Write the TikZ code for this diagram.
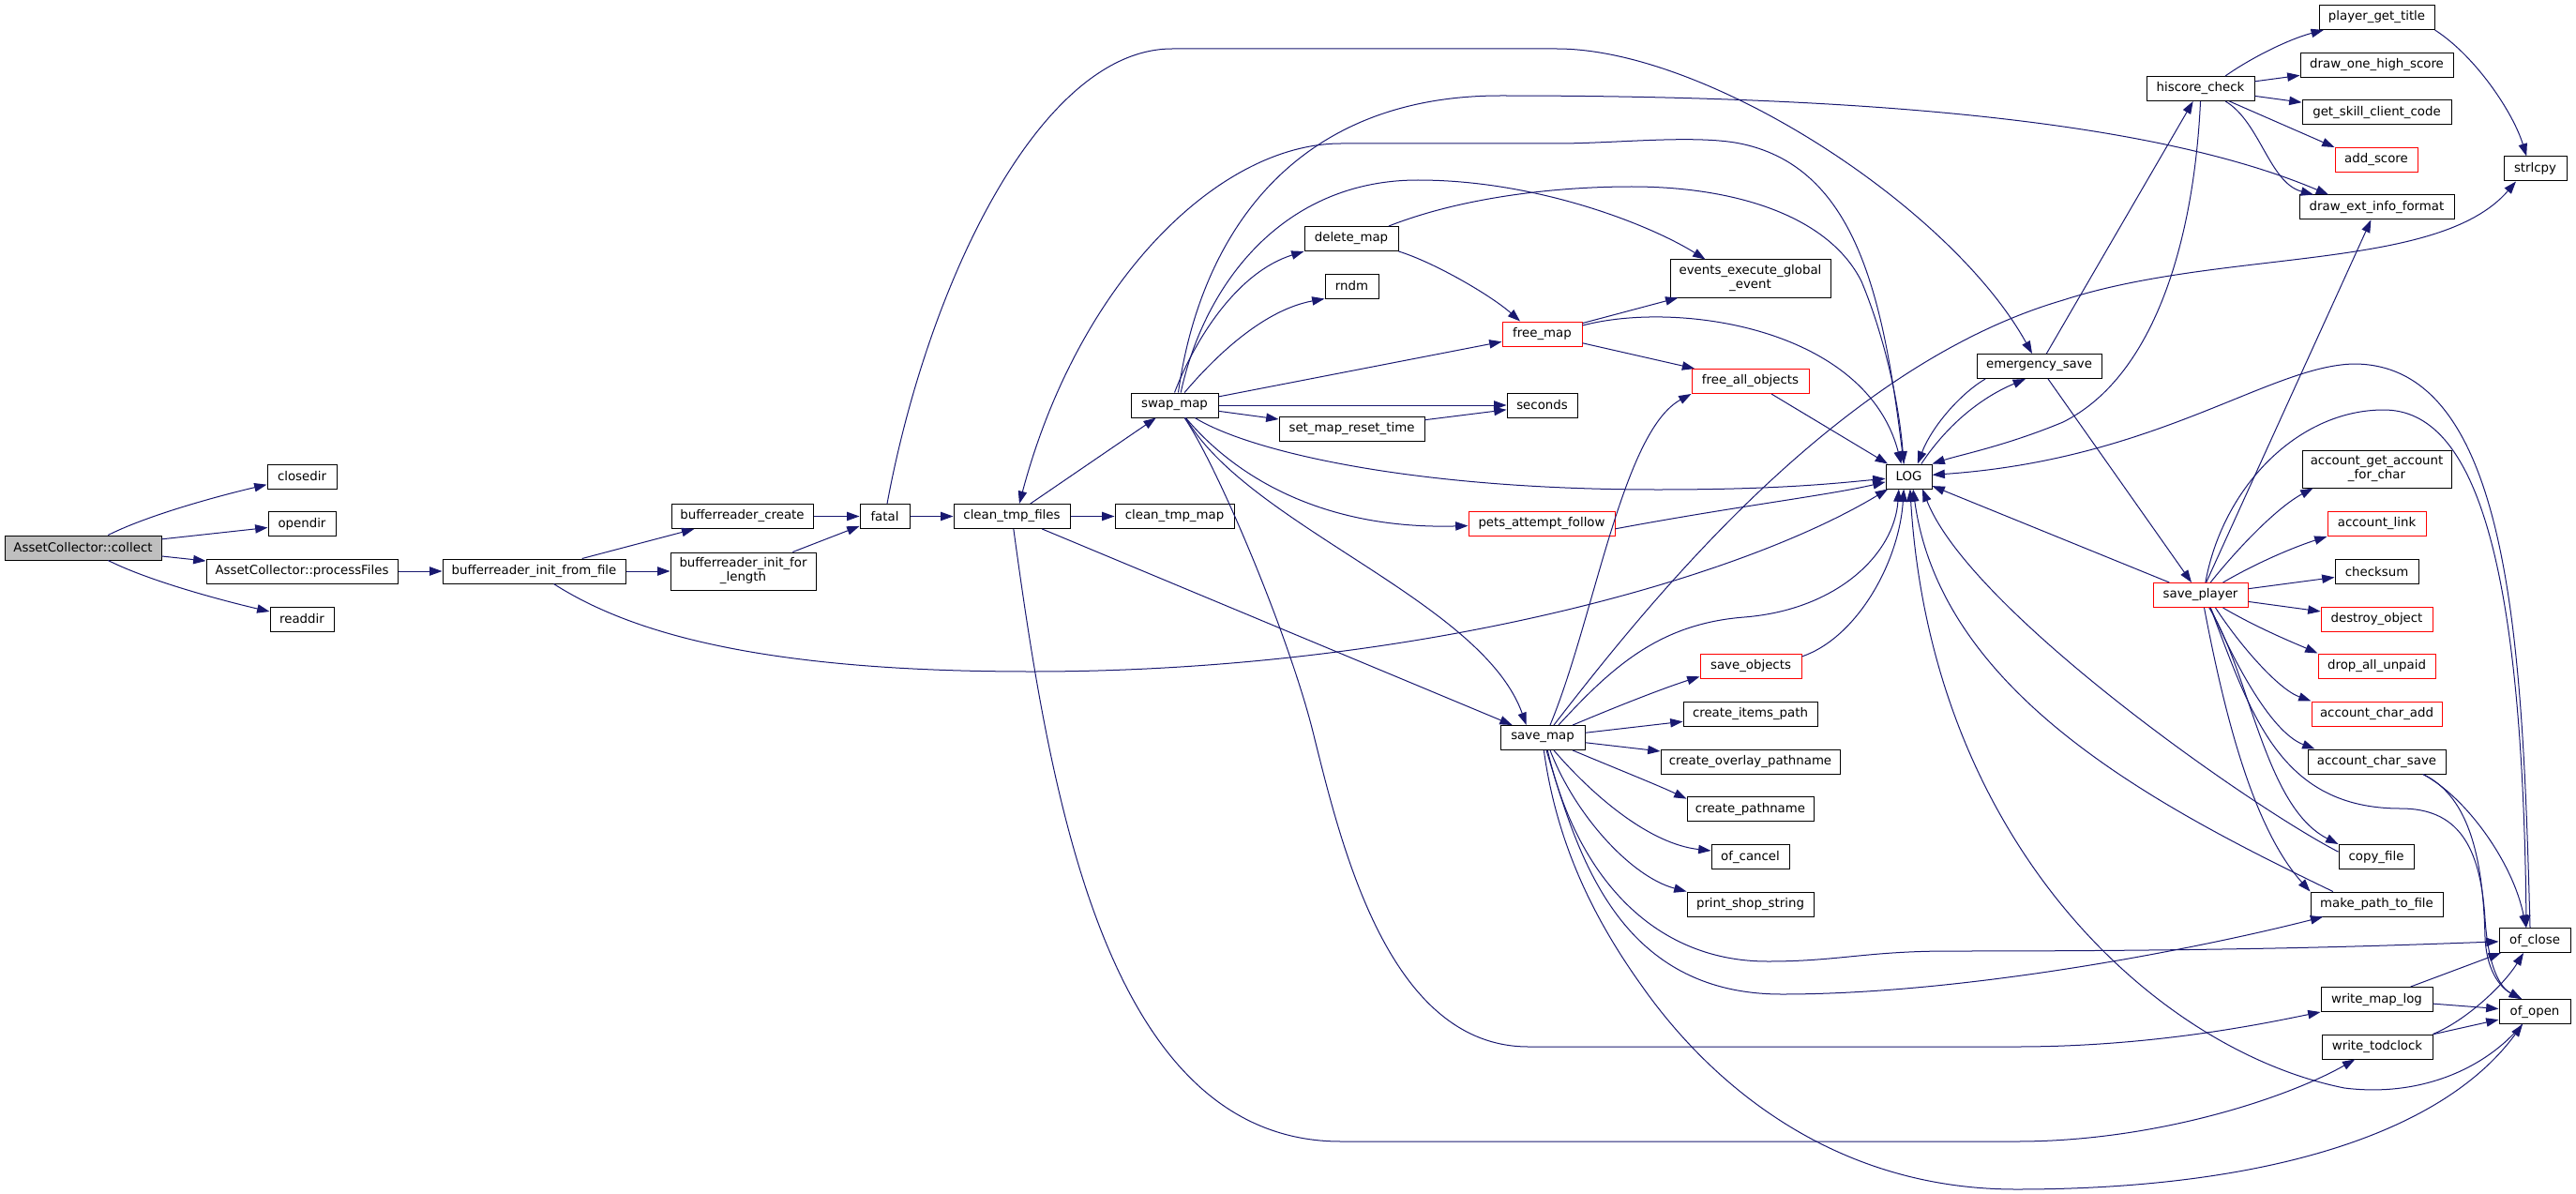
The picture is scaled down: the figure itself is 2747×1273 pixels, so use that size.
\documentclass[tikz,border=0pt]{standalone}
\usepackage{fontspec}
\setmainfont{DejaVu Sans}
\usetikzlibrary{arrows.meta}
\definecolor{edgec}{HTML}{191970}
\definecolor{grayfill}{HTML}{BFBFBF}
\begin{document}
\begin{tikzpicture}[x=0.75pt,y=-0.75pt,
  nd/.style={draw=black, line width=0.75pt, inner sep=0pt, align=center, font=\fontsize{10}{11.25}\selectfont, fill=white},
  rd/.style={nd, draw=red},
  sz/.style 2 args={minimum width=#1*0.75pt, minimum height=#2*0.75pt},
  e/.style={draw=edgec, line width=0.75pt, -{Triangle[length=10pt,width=7pt]}}]
\useasboundingbox (0,0) rectangle (2747,1273);
% nodes
\node[nd, sz={167}{26}, fill=grayfill] (collect) at (88.5,584) {AssetCollector::collect};
\node[nd, sz={74}{26}] (closedir) at (322,508) {closedir};
\node[nd, sz={72}{26}] (opendir) at (322,558.5) {opendir};
\node[nd, sz={204}{26}] (procf) at (322,609) {AssetCollector::processFiles};
\node[nd, sz={68}{26}] (readdir) at (322,660) {readdir};
\node[nd, sz={195}{26}] (bifrom) at (569.5,609) {bufferreader\_init\_from\_file};
\node[nd, sz={151}{26}] (brcreate) at (791.5,550.5) {bufferreader\_create};
\node[nd, sz={155}{40}] (brlen) at (792.5,609) {bufferreader\_init\_for\\\_length};
\node[nd, sz={53}{26}] (fatal) at (943.5,550.5) {fatal};
\node[nd, sz={124}{26}] (ctf) at (1079,550.5) {clean\_tmp\_files};
\node[nd, sz={127}{26}] (ctm) at (1252.5,550.5) {clean\_tmp\_map};
\node[nd, sz={93}{26}] (swap) at (1252.5,432) {swap\_map};
\node[nd, sz={100}{26}] (delmap) at (1441,254.5) {delete\_map};
\node[nd, sz={57}{26}] (rndm) at (1441.5,305) {rndm};
\node[nd, sz={155}{26}] (smrt) at (1441.5,457.5) {set\_map\_reset\_time};
\node[rd, sz={85}{26}] (freemap) at (1644.5,356) {free\_map};
\node[nd, sz={75}{26}] (seconds) at (1644.5,432) {seconds};
\node[rd, sz={156}{26}] (pets) at (1644,558.5) {pets\_attempt\_follow};
\node[nd, sz={90}{26}] (savemap) at (1645,786.5) {save\_map};
\node[nd, sz={171}{40}] (eveg) at (1866.5,297) {events\_execute\_global\\\_event};
\node[rd, sz={125}{26}] (freeall) at (1866.5,406.5) {free\_all\_objects};
\node[rd, sz={108}{26}] (saveobj) at (1867,710.5) {save\_objects};
\node[nd, sz={143}{26}] (cip) at (1866.5,761) {create\_items\_path};
\node[nd, sz={191}{26}] (cop) at (1866.5,812) {create\_overlay\_pathname};
\node[nd, sz={135}{26}] (cpn) at (1866.5,862.5) {create\_pathname};
\node[nd, sz={83}{26}] (ofcancel) at (1866.5,913.5) {of\_cancel};
\node[nd, sz={135}{26}] (pss) at (1866.5,964) {print\_shop\_string};
\node[nd, sz={49}{26}] (LOG) at (2035.5,508) {LOG};
\node[nd, sz={133}{26}] (emsave) at (2174.5,390.5) {emergency\_save};
\node[nd, sz={115}{26}] (hiscore) at (2346.5,94.5) {hiscore\_check};
\node[rd, sz={101}{26}] (saveplayer) at (2346.5,634.5) {save\_player};
\node[nd, sz={123}{26}] (pgt) at (2534.5,18.5) {player\_get\_title};
\node[nd, sz={163}{26}] (dohs) at (2534.5,69.5) {draw\_one\_high\_score};
\node[nd, sz={159}{26}] (gscc) at (2534.5,120) {get\_skill\_client\_code};
\node[rd, sz={88}{26}] (addscore) at (2534,170.5) {add\_score};
\node[nd, sz={165}{26}] (deif) at (2534.5,221) {draw\_ext\_info\_format};
\node[nd, sz={159}{40}] (agafc) at (2534.5,500) {account\_get\_account\\\_for\_char};
\node[rd, sz={105}{26}] (alink) at (2534.5,558.5) {account\_link};
\node[nd, sz={89}{26}] (checksum) at (2534.5,609.5) {checksum};
\node[rd, sz={119}{26}] (destroy) at (2534.5,660) {destroy\_object};
\node[rd, sz={125}{26}] (dropall) at (2534.5,710) {drop\_all\_unpaid};
\node[rd, sz={139}{26}] (acadd) at (2534.5,761) {account\_char\_add};
\node[nd, sz={147}{26}] (acsave) at (2534.5,812) {account\_char\_save};
\node[nd, sz={80}{26}] (copyfile) at (2534,913.5) {copy\_file};
\node[nd, sz={141}{26}] (mptf) at (2534.5,964) {make\_path\_to\_file};
\node[nd, sz={119}{26}] (wml) at (2534.5,1065.5) {write\_map\_log};
\node[nd, sz={118}{26}] (wtc) at (2535,1116) {write\_todclock};
\node[nd, sz={67}{26}] (strlcpy) at (2703.5,180) {strlcpy};
\node[nd, sz={76}{26}] (ofclose) at (2703,1002.5) {of\_close};
\node[nd, sz={76}{26}] (ofopen) at (2703,1078.5) {of\_open};
% edges
\draw[e] (collect) .. controls (160,548) and (240,527) .. (closedir);
\draw[e] (collect) -- (opendir);
\draw[e] (collect) -- (procf);
\draw[e] (collect) .. controls (160,620) and (240,641) .. (readdir);
\draw[e] (procf) -- (bifrom);
\draw[e] (bifrom) -- (brcreate);
\draw[e] (bifrom) -- (brlen);
\draw[e] (bifrom) .. controls (680,680) and (830,716) .. (1100,716) .. controls (1500,716) and (1850,620) .. (LOG);
\draw[e] (brcreate) -- (fatal);
\draw[e] (brlen) -- (fatal);
\draw[e] (fatal) -- (ctf);
\draw[e] (fatal) .. controls (990,300) and (1110,52) .. (1250,52) -- (1660,52) .. controls (1820,52) and (2080,220) .. (emsave);
\draw[e] (ctf) -- (swap);
\draw[e] (ctf) -- (ctm);
\draw[e] (ctf) -- (savemap);
\draw[e] (ctf) .. controls (1120,850) and (1180,1217) .. (1430,1217) -- (2150,1217) .. controls (2300,1217) and (2440,1170) .. (wtc);
\draw[e] (swap.north) .. controls (1275,360) and (1320,290) .. (delmap.south west);
\draw[e] ([xshift=8pt]swap.north) .. controls (1300,375) and (1350,330) .. (rndm.south west);
\draw[e] (swap) -- (freemap);
\draw[e] (swap) -- (seconds);
\draw[e] (swap) -- (smrt);
\draw[e] (smrt) -- (seconds);
\draw[e] (swap) .. controls (1330,480) and (1500,522) .. (1768,522) .. controls (1900,522) and (1960,515) .. (LOG);
\draw[e] ([xshift=9pt]swap.south) .. controls (1310,500) and (1400,565) .. (pets);
\draw[e] ([xshift=9pt]swap.south) .. controls (1330,560) and (1580,640) .. ([xshift=-13pt]savemap.north);
\draw[e] ([xshift=8pt]swap.south) .. controls (1300,500) and (1375,680) .. (1400,780) .. controls (1430,900) and (1480,1116) .. (1630,1116) -- (2150,1116) .. controls (2300,1116) and (2420,1090) .. (wml.south west);
\draw[e] ([xshift=5pt]swap.north) .. controls (1285,300) and (1370,192) .. (1512,192) .. controls (1640,192) and (1760,240) .. ([xshift=-36pt]eveg.north);
\draw[e] ([xshift=3pt]swap.north) .. controls (1280,250) and (1380,102) .. (1600,102) .. controls (2000,102) and (2300,130) .. ([xshift=-38.6pt]deif.north);
\draw[e] ([xshift=-4pt]LOG.north) .. controls (2010,330) and (1985,175) .. (1850,152) .. controls (1800,144) and (1720,153) .. (1660,153) -- (1430,153) .. controls (1300,153) and (1150,300) .. ([xshift=6pt]ctf.north);
\draw[e] (delmap.south east) .. controls (1530,280) and (1590,315) .. ([xshift=-17.6pt]freemap.north);
\draw[e] ([xshift=30pt]delmap.north) .. controls (1560,210) and (1660,199) .. (1740,199) .. controls (1850,199) and (1950,230) .. (1985,300) .. controls (2010,360) and (2025,430) .. ([xshift=-4pt]LOG.north);
\draw[e] (freemap) -- (eveg);
\draw[e] (freemap) -- (freeall);
\draw[e] ([yshift=6.75pt]freemap.east) .. controls (1790,320) and (1990,350) .. ([xshift=-6pt]LOG.north);
\draw[e] (freeall) -- (LOG);
\draw[e] ([yshift=-4pt]pets.east) .. controls (1850,540) and (1950,528) .. (LOG);
\draw[e] ([xshift=6pt]savemap.north) .. controls (1700,660) and (1730,460) .. (freeall.south west);
\draw[e] ([xshift=12.75pt]savemap.north) .. controls (1720,710) and (1770,665) .. (1860,658) .. controls (1960,650) and (2020,590) .. ([xshift=-8pt]LOG.south);
\draw[e] (savemap) .. controls (1720,755) and (1770,735) .. ([yshift=2pt]saveobj.south west);
\draw[e] (savemap) -- (cip);
\draw[e] (savemap) -- (cop);
\draw[e] (savemap) .. controls (1720,818) and (1770,838) .. ([yshift=-2pt]cpn.north west);
\draw[e] ([xshift=9pt]savemap.south) .. controls (1700,850) and (1760,900) .. ([yshift=4.9pt]ofcancel.west);
\draw[e] ([xshift=6pt]savemap.south) .. controls (1680,870) and (1740,935) .. (pss.north west);
\draw[e] ([xshift=4pt]savemap.south) .. controls (1680,930) and (1760,1025) .. (1885,1025) .. controls (1960,1025) and (1990,1014) .. (2080,1014) .. controls (2400,1014) and (2550,1008) .. (ofclose);
\draw[e] ([xshift=3pt]savemap.south) .. controls (1680,900) and (1720,1060) .. (1900,1060) .. controls (2100,1060) and (2350,1010) .. ([xshift=-43pt]mptf.south);
\draw[e] ([xshift=1pt]savemap.south) .. controls (1660,900) and (1700,980) .. (1750,1050) .. controls (1820,1150) and (1950,1268) .. (2150,1268) .. controls (2400,1268) and (2600,1215) .. ([xshift=-9.75pt]ofopen.south);
\draw[e] ([xshift=9pt]savemap.north) .. controls (1760,640) and (1960,390) .. (2200,320) .. controls (2370,265) and (2600,290) .. ([xshift=-15.4pt]strlcpy.south);
\draw[e] ([yshift=7.9pt]saveobj.east) .. controls (1980,680) and (2025,600) .. ([xshift=-4pt]LOG.south);
\draw[e] ([xshift=10pt]LOG.north) .. controls (2075,455) and (2110,425) .. ([xshift=-10.9pt]emsave.south);
\draw[e] ([xshift=-43pt]emsave.south) .. controls (2090,420) and (2060,455) .. ([xshift=7pt]LOG.north);
\draw[e] (emsave) -- (hiscore);
\draw[e] (emsave) -- (saveplayer);
\draw[e] ([xshift=19.9pt]hiscore.north) .. controls (2400,62) and (2440,42) .. ([xshift=4pt]pgt.south west);
\draw[e] (hiscore) -- (dohs);
\draw[e] (hiscore) -- (gscc);
\draw[e] (hiscore) -- (addscore.north west);
\draw[e] ([xshift=20pt]hiscore.south) .. controls (2410,130) and (2420,195) .. ([xshift=-50.6pt]deif.north);
\draw[e] (hiscore.south) .. controls (2340,250) and (2300,400) .. (2200,450) .. controls (2140,475) and (2090,485) .. (LOG.north east);
\draw[e] ([xshift=-3.75pt]ofclose.north) .. controls (2690,700) and (2680,388) .. (2510,388) .. controls (2420,390) and (2300,490) .. (LOG);
\draw[e] ([xshift=4pt]saveplayer.north) .. controls (2370,520) and (2450,437) .. (2542,437) .. controls (2640,437) and (2690,600) .. ([xshift=-6.75pt]ofclose.north);
\draw[e] (saveplayer) -- (LOG);
\draw[e] (saveplayer) -- (deif);
\draw[e] ([xshift=8pt]saveplayer.north) .. controls (2390,580) and (2430,540) .. ([xshift=-51pt]agafc.south);
\draw[e] ([xshift=18pt]saveplayer.north) .. controls (2410,598) and (2450,582) .. (alink.south west);
\draw[e] (saveplayer) -- (checksum);
\draw[e] (saveplayer) -- (destroy);
\draw[e] ([xshift=18pt]saveplayer.south) .. controls (2410,671) and (2450,687) .. (dropall.north west);
\draw[e] ([xshift=12pt]saveplayer.south) .. controls (2390,690) and (2430,735) .. (acadd.north west);
\draw[e] ([xshift=8pt]saveplayer.south) .. controls (2380,700) and (2420,780) .. ([xshift=6pt]acsave.north west);
\draw[e] ([xshift=3pt]saveplayer.south) .. controls (2370,750) and (2400,880) .. (mptf.north west);
\draw[e] ([xshift=7pt]saveplayer.south) .. controls (2400,720) and (2415,860) .. (copyfile.north west);
\draw[e] ([xshift=8pt]saveplayer.south) .. controls (2400,760) and (2430,862) .. (2560,862) .. controls (2620,862) and (2645,900) .. (2650,980) .. controls (2654,1040) and (2670,1055) .. ([xshift=-10.5pt]ofopen.north);
\draw[e] ([xshift=37pt]acsave.south) .. controls (2630,850) and (2680,920) .. ([xshift=-7pt]ofclose.north);
\draw[e] ([xshift=37pt]acsave.south) .. controls (2635,850) and (2648,920) .. (2650,1000) .. controls (2652,1040) and (2670,1055) .. ([xshift=-10.5pt]ofopen.north);
\draw[e] (wml) -- (ofclose);
\draw[e] (wml) -- (ofopen);
\draw[e] (wtc.north east) .. controls (2630,1088) and (2670,1050) .. ([xshift=-9pt]ofclose.south);
\draw[e] (wtc) -- (ofopen);
\draw[e] (pgt.south east) .. controls (2640,60) and (2680,120) .. ([xshift=-7pt]strlcpy.north);
\draw[e] ([xshift=-35pt]mptf.north) .. controls (2300,860) and (2070,740) .. ([xshift=3.4pt]LOG.south);
\draw[e] ([yshift=4pt]copyfile.west) .. controls (2400,860) and (2100,650) .. ([xshift=10.9pt]LOG.south);
\draw[e] ([xshift=-10pt]ofopen.south) .. controls (2650,1140) and (2580,1170) .. (2500,1160) .. controls (2300,1120) and (2060,900) .. ([xshift=1pt]LOG.south);
\end{tikzpicture}
\end{document}
